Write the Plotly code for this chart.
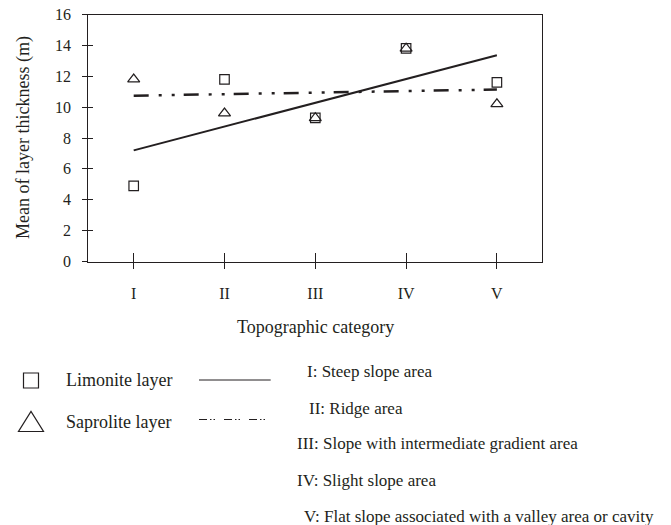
import numpy as np
import plotly.graph_objects as go

# Topographic categories and mean layer thickness (m)
categories = ["I", "II", "III", "IV", "V"]
limonite = [4.9, 11.8, 9.3, 13.8, 11.6]
saprolite = [11.8, 9.6, 9.3, 13.8, 10.2]
y_tick_values = list(range(0, 17, 2))

series_names = ["Limonite layer", "Saprolite layer"]
category_notes = [
    "I: Steep slope area",
    "II: Ridge area",
    "III: Slope with intermediate gradient area",
    "IV: Slight slope area",
    "V: Flat slope associated with a valley area or cavity",
]

W, H = 671, 525
INK = "#231f20"
FONT = "Liberation Serif"


def px(x):
    return x / W


def py(y):
    return 1 - y / H


# Linear trend of each layer over the category index
idx = np.arange(len(categories))
ends = idx[[0, -1]]
lim_fit = np.polyval(np.polyfit(idx, limonite, 1), ends)
sap_fit = np.polyval(np.polyfit(idx, saprolite, 1), ends)

SOLID = "solid"
DASH_DOT_DOT = "15px,10px,3px,10px,3px,9px"

fig = go.Figure()
fig.add_trace(go.Scatter(
    x=[categories[0], categories[-1]], y=lim_fit, mode="lines",
    line=dict(color=INK, width=2, dash=SOLID), hoverinfo="skip", showlegend=False))
fig.add_trace(go.Scatter(
    x=[categories[0], categories[-1]], y=sap_fit, mode="lines",
    line=dict(color=INK, width=2.5, dash=DASH_DOT_DOT), hoverinfo="skip", showlegend=False))
fig.add_trace(go.Scatter(
    x=categories, y=limonite, mode="markers", name=series_names[0],
    marker=dict(symbol="square-open", size=9.5, color=INK, line=dict(width=1.2, color=INK)),
    showlegend=False))
fig.add_trace(go.Scatter(
    x=categories, y=saprolite, mode="markers", name=series_names[1],
    marker=dict(symbol="triangle-up-open", size=10.5, color=INK, line=dict(width=1.2, color=INK)),
    showlegend=False))
# carrier for the inward tick marks
fig.add_trace(go.Scatter(x=[None], y=[None], xaxis="x2", yaxis="y2",
                         showlegend=False, hoverinfo="skip"))

x_dom = [px(88.3), px(542.3)]
y_dom = [py(261.5), py(14.5)]
tick_font = dict(family=FONT, size=16, color=INK)

fig.update_layout(
    width=W, height=H, autosize=False,
    margin=dict(l=0, r=0, t=0, b=0),
    paper_bgcolor="white", plot_bgcolor="white",
    font=dict(family=FONT, color=INK),
    xaxis=dict(
        type="category", categoryorder="array", categoryarray=categories,
        range=[-0.5, len(categories) - 0.5], domain=x_dom,
        showline=True, mirror=True, linecolor=INK, linewidth=1.3,
        ticks="outside", ticklen=6, tickwidth=1.3, tickcolor=INK,
        tickfont=tick_font, ticklabelstandoff=11,
        showgrid=False, zeroline=False, automargin=False,
    ),
    xaxis2=dict(
        overlaying="x", anchor="y", side="bottom",
        range=[-0.5, len(categories) - 0.5], tickvals=list(idx),
        ticks="inside", ticklen=9, tickwidth=1.3, tickcolor=INK,
        showticklabels=False, showline=False, showgrid=False, zeroline=False,
    ),
    yaxis=dict(
        range=[0, 16], domain=y_dom, tickvals=y_tick_values,
        showline=True, mirror=True, linecolor=INK, linewidth=1.3,
        ticks="outside", ticklen=5, tickwidth=1.3, tickcolor=INK,
        tickfont=tick_font, ticklabelstandoff=8,
        showgrid=False, zeroline=False, automargin=False,
    ),
    yaxis2=dict(
        overlaying="y", anchor="x", side="left",
        range=[0, 16], tickvals=y_tick_values,
        ticks="inside", ticklen=5, tickwidth=1.3, tickcolor=INK,
        showticklabels=False, showline=False, showgrid=False, zeroline=False,
    ),
    showlegend=False,
)

annotations = [
    dict(text="Topographic category", x=(x_dom[0] + x_dom[1]) / 2, y=py(326.5),
         xanchor="center", yanchor="middle", font=dict(size=18)),
    dict(text="Mean of layer thickness (m)", x=px(23), y=(y_dom[0] + y_dom[1]) / 2,
         xanchor="center", yanchor="middle", textangle=-90, font=dict(size=18)),
    dict(text=series_names[0], x=px(64.3), y=py(380), xanchor="left", yanchor="middle",
         font=dict(size=18)),
    dict(text=series_names[1], x=px(64.3), y=py(421.7), xanchor="left", yanchor="middle",
         font=dict(size=18)),
]
note_x = [305, 306.7, 295, 295, 301.7]
note_y = [371.7, 408.3, 443.3, 480, 516.7]
for text, nx, ny in zip(category_notes, note_x, note_y):
    annotations.append(dict(text=text, x=px(nx), y=py(ny), xanchor="left", yanchor="middle",
                            font=dict(size=17)))
for a in annotations:
    a.update(xref="paper", yref="paper", showarrow=False)
    a["font"].update(family=FONT, color=INK)
fig.update_layout(annotations=annotations)

# Key: symbols and line samples
shapes = [
    dict(type="rect", x0=px(23.5), x1=px(38.5), y0=py(388), y1=py(373),
         line=dict(color=INK, width=1.2)),
    dict(type="path",
         path=f"M {px(18.5)},{py(431.5)} L {px(43.5)},{py(431.5)} L {px(31)},{py(411.5)} Z",
         line=dict(color=INK, width=1.2)),
    dict(type="line", x0=px(199), x1=px(270.7), y0=py(380), y1=py(380),
         line=dict(color=INK, width=1, dash=SOLID)),
    dict(type="line", x0=px(199), x1=px(270.7), y0=py(419.5), y1=py(419.5),
         line=dict(color=INK, width=1, dash="8px,3px,1.5px,2px,1.5px,9px")),
]
for s in shapes:
    s.update(xref="paper", yref="paper")
fig.update_layout(shapes=shapes)

fig.write_html("out.html")
